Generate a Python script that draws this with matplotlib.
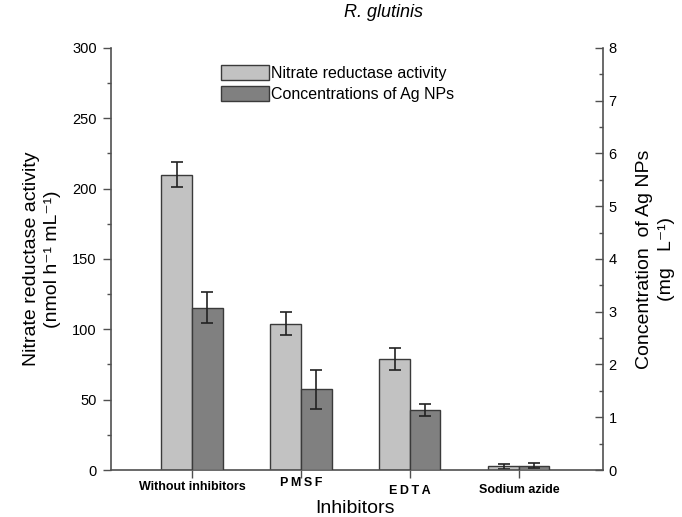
import numpy as np
import matplotlib
matplotlib.use("Agg")
import matplotlib.pyplot as plt
from matplotlib.ticker import MultipleLocator

plt.rcParams['font.family'] = ['Liberation Sans', 'DejaVu Sans']

inhibitors = ["Without inhibitors", "P\u2009M\u2009S\u2009F", "E\u2009D\u2009T\u2009A", "Sodium azide"]
nr_activity = [210, 104, 79, 2.5]
nr_err = [9, 8, 8, 1.5]
ag_conc = [3.08, 1.53, 1.14, 0.08]
ag_err = [0.29, 0.37, 0.11, 0.05]

light = "#c2c2c2"
dark = "#808080"
edge = "#3a3a3a"
axcol = "#505050"

fig = plt.figure(figsize=(6.82, 5.17), dpi=100)
ax = fig.add_axes([0.1623, 0.0909, 0.7217, 0.8163])
ax2 = ax.twinx()

x = np.arange(len(inhibitors))
w = 0.28
ekw = dict(ecolor="#222222", elinewidth=1.2, capsize=4, capthick=1.2)

b1 = ax.bar(x - w / 2, nr_activity, w, yerr=nr_err, color=light, edgecolor=edge,
            linewidth=1.0, error_kw=ekw, label="Nitrate reductase activity")
b2 = ax2.bar(x + w / 2, ag_conc, w, yerr=ag_err, color=dark, edgecolor=edge,
             linewidth=1.0, error_kw=ekw, label="Concentrations of Ag NPs")

ax.set_xlim(-0.746, 3.77)
ax.set_ylim(0, 300)
ax2.set_ylim(0, 8)

ax.yaxis.set_major_locator(MultipleLocator(50))
ax.yaxis.set_minor_locator(MultipleLocator(25))
ax2.yaxis.set_major_locator(MultipleLocator(1))
ax2.yaxis.set_minor_locator(MultipleLocator(0.5))

for a in (ax, ax2):
    a.spines['top'].set_visible(False)
    for s in a.spines.values():
        s.set_color(axcol)
        s.set_linewidth(1.2)
ax.spines['right'].set_visible(False)
ax2.spines['left'].set_visible(False)
ax2.spines['bottom'].set_visible(False)

ax.tick_params(axis='y', which='major', direction='out', length=6, width=1.0,
               color=axcol, labelsize=10.5, pad=4)
ax.tick_params(axis='y', which='minor', direction='out', length=3, width=1.0, color=axcol)
ax2.tick_params(axis='y', which='major', direction='in', length=6, width=1.0,
                color=axcol, labelsize=10.5, pad=4)
ax2.tick_params(axis='y', which='minor', direction='in', length=3, width=1.0, color=axcol)

ax.set_xticks(x)
ax.set_xticklabels([])
ax.tick_params(axis='x', direction='out', length=6, width=1.0, color=axcol)
label_offsets = [0.0, -4, 4, 3]
for xi, name, dy in zip(x, inhibitors, label_offsets):
    ax.annotate(name, xy=(xi, 0), xycoords=('data', 'axes fraction'),
                xytext=(0, -17 - dy), textcoords='offset pixels',
                ha='center', va='center', fontsize=9, fontweight='bold')

fig.text(0.52, 0.0174, "Inhibitors", fontsize=14, ha='center', va='center')
ax.set_ylabel("Nitrate reductase activity\n(nmol h\u207b\u00b9 mL\u207b\u00b9)", fontsize=14,
              linespacing=1.35, labelpad=8)
ax2.set_ylabel("Concentration  of Ag NPs\n(mg   L\u207b\u00b9)", fontsize=14,
               linespacing=1.35, rotation=90, labelpad=14)
ax2.yaxis.set_label_position('right')

fig.text(0.562, 0.975, "R. glutinis", fontsize=13, style='italic', ha='center', va='center')

fig.legend([b1, b2], ["Nitrate reductase activity", "Concentrations of Ag NPs"],
           loc='upper left', bbox_to_anchor=(0.303, 0.902), frameon=False,
           fontsize=11.5, handlelength=3.0, handleheight=1.1, handletextpad=0.1,
           labelspacing=0.3)

fig.savefig("out.png", dpi=100)
